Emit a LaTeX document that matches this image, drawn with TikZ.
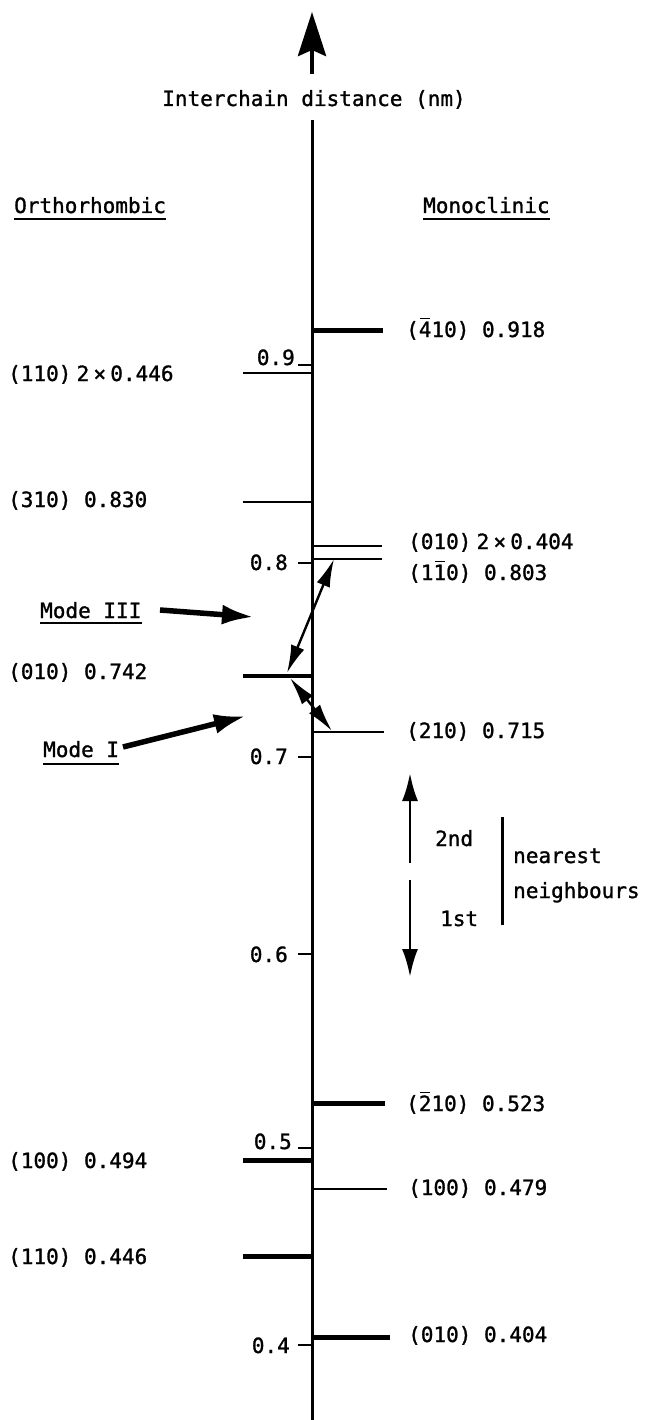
\documentclass[tikz,border=0pt]{standalone}
\usepackage{fontspec}
\setmainfont[FakeBold=1.2]{DejaVu Sans Mono}
\usetikzlibrary{arrows.meta}
% digit with a bar above it (negative Miller index)
\newcommand\ovbar[1]{\makebox[0pt][l]{\hspace{0.07em}\raisebox{0.84em}{\rule{0.46em}{1.6pt}}}#1}
\begin{document}
\begin{tikzpicture}[x=1pt,y=-1pt,
  txt/.style={inner sep=0pt, font=\fontsize{21}{25}\selectfont},
  axisline/.style={line width=3pt},
  tickmark/.style={line width=2.6pt},
  lvthick/.style={line width=5pt},
  lvmid/.style={line width=4pt},
  lvthin/.style={line width=2.6pt},
  uline/.style={line width=2.6pt},
  modearrow/.style={line width=5.5pt, -{Latex[length=32pt,width=20pt]}},
  dblarrow/.style={line width=2.4pt, {Latex[length=28pt,width=14pt]}-{Latex[length=28pt,width=14pt]}},
  nnarrow/.style={line width=2.8pt, -{Latex[length=28pt,width=16pt]}},
]
\fill[white] (0,0) rectangle (651,1420);
\useasboundingbox (0,0) rectangle (651,1420);

% ---- distance axis ----
\coordinate (tip) at (312,12);
\coordinate (shaft) at (312,74);
\coordinate (axtop) at (312,120);
\coordinate (axbot) at (312,1420);
\draw[line width=4.5pt,-{Stealth[length=44pt,width=28pt,inset=6pt]}] (shaft) -- (tip);
\node[txt, anchor=base] (title) at (314,106) {Interchain distance (nm)};
\draw[axisline] (axtop) -- (axbot);

% ---- tick marks ----
\foreach \n/\ty/\ly/\lx/\lab in {9/365/365/295/0.9, 8/563/570/288/0.8,
    7/757/764/288/0.7, 6/954/962/288/0.6, 5/1148/1149/292/0.5, 4/1345/1353/290/0.4} {
  \coordinate (tk\n) at (298,\ty);
  \coordinate (ta\n) at (312,\ty);
  \draw[tickmark] (tk\n) -- (ta\n);
  \node[txt, anchor=base east] (tl\n) at (\lx,\ly) {\lab};
}

% ---- column headings ----
\node[txt, anchor=base west] (ortho) at (14,213) {Orthorhombic};
\node[txt, anchor=base west] (mono) at (423,213) {Monoclinic};
\draw[uline] ([yshift=-6pt]ortho.base west) -- ([yshift=-6pt]ortho.base east);
\draw[uline] ([yshift=-6pt]mono.base west) -- ([yshift=-6pt]mono.base east);

% ---- orthorhombic spacings (left) ----
\foreach \n/\ly/\st in {1/373/lvthin, 2/502/lvthin, 3/676/lvmid,
    4/1160/lvthick, 5/1256/lvthick} {
  \coordinate (oa\n) at (243,\ly);
  \coordinate (ob\n) at (312,\ly);
  \draw[\st] (oa\n) -- (ob\n);
}
\node[txt, anchor=base west] (ol1) at (8,381) {(110)\hspace{0.25em}2\hspace{0.2em}×\hspace{0.2em}0.446};
\node[txt, anchor=base west] (ol2) at (8,507) {(310) 0.830};
\node[txt, anchor=base west] (ol3) at (8,679) {(010) 0.742};
\node[txt, anchor=base west] (ol4) at (8,1168) {(100) 0.494};
\node[txt, anchor=base west] (ol5) at (8,1264) {(110) 0.446};

% ---- monoclinic spacings (right) ----
\foreach \n/\ly/\xe/\st in {1/330/383/lvthick, 2/546/382/lvthin, 3/559/382/lvthin,
    4/732/384/lvthin, 5/1103/385/lvthick, 6/1189/387/lvthin, 7/1337/390/lvthick} {
  \coordinate (ma\n) at (312,\ly);
  \coordinate (mb\n) at (\xe,\ly);
  \draw[\st] (ma\n) -- (mb\n);
}
\node[txt, anchor=base west] (ml1) at (406,337) {(\ovbar{4}10) 0.918};
\node[txt, anchor=base west] (ml2) at (408,549) {(010)\hspace{0.25em}2\hspace{0.2em}×\hspace{0.2em}0.404};
\node[txt, anchor=base west] (ml3) at (408,580) {(1\ovbar{1}0) 0.803};
\node[txt, anchor=base west] (ml4) at (406,738) {(210) 0.715};
\node[txt, anchor=base west] (ml5) at (406,1111) {(\ovbar{2}10) 0.523};
\node[txt, anchor=base west] (ml6) at (408,1195) {(100) 0.479};
\node[txt, anchor=base west] (ml7) at (408,1342) {(010) 0.404};

% ---- transitions between the two lattices ----
\coordinate (ta) at (287,673);
\coordinate (tb) at (334,559);
\coordinate (tc) at (290,678);
\coordinate (td) at (332,731);
\draw[dblarrow] (ta) -- (tb);
\draw[dblarrow] (tc) -- (td);

% ---- deformation modes ----
\node[txt, anchor=base west] (m3) at (40,618) {Mode III};
\draw[uline] ([yshift=-5pt]m3.base west) -- ([yshift=-5pt]m3.base east);
\coordinate (m3s) at (160,610);
\coordinate (m3e) at (254,617);
\draw[modearrow] (m3s) -- (m3e);

\node[txt, anchor=base west] (m1) at (43,757) {Mode I};
\draw[uline] ([yshift=-7pt]m1.base west) -- ([yshift=-7pt]m1.base east);
\coordinate (m1s) at (123,747);
\coordinate (m1e) at (246,716);
\draw[modearrow] (m1s) -- (m1e);

% ---- nearest neighbours ----
\coordinate (n2s) at (410,863);
\coordinate (n2e) at (410,773);
\coordinate (n1s) at (410,880);
\coordinate (n1e) at (410,977);
\draw[nnarrow] (n2s) -- (n2e);
\draw[nnarrow] (n1s) -- (n1e);
\node[txt, anchor=base west] (second) at (435,846) {2nd};
\node[txt, anchor=base west] (first) at (440,926) {1st};
\coordinate (bra) at (502,817);
\coordinate (brb) at (502,925);
\draw[line width=3pt] (bra) -- (brb);
\node[txt, anchor=base west] (near) at (513,863) {nearest};
\node[txt, anchor=base west] (neigh) at (513,898) {neighbours};
\end{tikzpicture}
\end{document}
